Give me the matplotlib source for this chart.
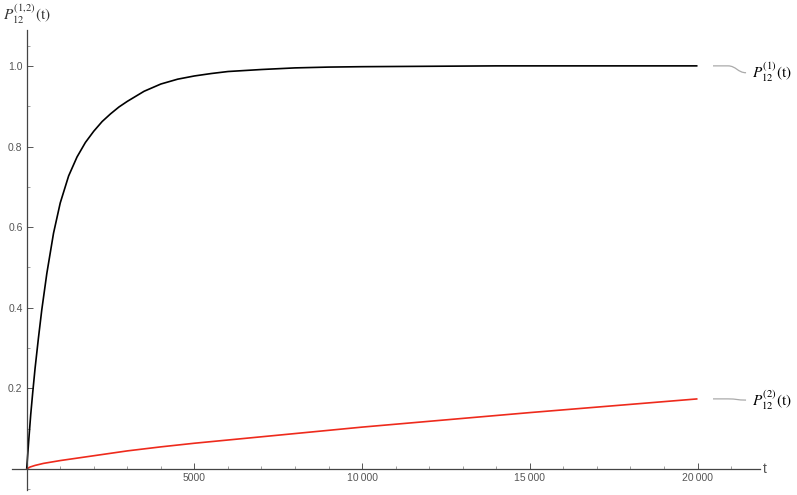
import numpy as np
import matplotlib
matplotlib.use('Agg')
import matplotlib.pyplot as plt
from matplotlib.path import Path
from matplotlib.patches import PathPatch

plt.rcParams['font.family'] = ['Liberation Sans', 'DejaVu Sans']
plt.rcParams['mathtext.fontset'] = 'stix'

# values
t_p1 = [0, 60, 120, 180, 250, 350, 450, 600, 800, 1000, 1250, 1500, 1750,
        2000, 2250, 2500, 2750, 3000, 3500, 4000, 4500, 5000, 5500, 6000,
        7000, 8000, 9000, 10000, 12000, 14000, 16000, 18000, 20000]
p1 = [0, 0.07, 0.135, 0.19, 0.25, 0.325, 0.395, 0.485, 0.585, 0.66, 0.727,
      0.774, 0.81, 0.838, 0.862, 0.881, 0.898, 0.912, 0.937, 0.955, 0.967,
      0.975, 0.981, 0.986, 0.991, 0.995, 0.997, 0.998, 0.999, 1.0, 1.0, 1.0,
      1.0]

t_p2 = [0, 100, 250, 500, 1000, 1500, 2000, 3000, 4000, 5000, 7500, 10000,
        12500, 15000, 17500, 20000]
p2 = [0, 0.005, 0.009, 0.014, 0.021, 0.027, 0.033, 0.045, 0.055, 0.064,
      0.084, 0.104, 0.122, 0.140, 0.157, 0.174]

x_major = [5000, 10000, 15000, 20000]
x_labels = ['5000', '10\u2009000', '15\u2009000', '20\u2009000']
y_major = [0.2, 0.4, 0.6, 0.8, 1.0]
y_labels = ['0.2', '0.4', '0.6', '0.8', '1.0']

fig = plt.figure(figsize=(7.97, 4.95), dpi=100)
ax = fig.add_axes([0.01468, 0.0101, 0.9389, 0.9293])

ax.plot(t_p1, p1, color='black', lw=1.2, solid_capstyle='butt')
ax.plot(t_p2, p2, color='#ee2a1c', lw=1.2, solid_capstyle='butt')

ax.set_xlim(-447, 21863)
ax.set_ylim(-0.052, 1.089)

for s in ['top', 'right']:
    ax.spines[s].set_visible(False)
ax.spines['left'].set_position(('data', 0))
ax.spines['bottom'].set_position(('data', 0))
for s in ['left', 'bottom']:
    ax.spines[s].set_color('#444444')
    ax.spines[s].set_linewidth(0.9)

ax.set_xticks(x_major)
ax.set_xticklabels(x_labels)
ax.set_xticks(np.arange(1000, 22000, 1000), minor=True)
ax.set_yticks(y_major)
ax.set_yticklabels(y_labels)
ax.set_yticks([-0.05, 0.1, 0.3, 0.5, 0.7, 0.9, 1.05], minor=True)

ax.tick_params(which='major', direction='in', length=4, width=0.7,
               color='#555555', labelcolor='#555555', labelsize=7.5, pad=3)
ax.tick_params(which='minor', direction='in', length=2.5, width=0.5,
               color='#777777')

ax.text(21950, 0.0, 't', color='#555555', fontsize=10, va='center',
        ha='left', clip_on=False)

# P_12^(1,2)(t) axis label
fig.text(0.004, 1 - 14 / 495, r'$P_{12}^{(1{,}2)}(\mathrm{t})$', fontsize=11,
         va='center', ha='left', color='#333333')


def callout(y0, y1, label):
    verts = [(20462, y0), (20909, y0), (21150, y0), (21200, y1),
             (21447, y1)]
    codes = [Path.MOVETO, Path.LINETO, Path.CURVE4, Path.CURVE4, Path.CURVE4]
    ax.add_patch(PathPatch(Path(verts, codes), fill=False, color='#aaaaaa',
                           lw=0.9, clip_on=False))
    ax.text(21625, y1, label, fontsize=11, va='center', ha='left',
            color='black', clip_on=False)


callout(1.0, 0.983, r'$P_{12}^{(1)}(\mathrm{t})$')
callout(0.174, 0.171, r'$P_{12}^{(2)}(\mathrm{t})$')

fig.savefig('out.png', dpi=100, facecolor='white')
